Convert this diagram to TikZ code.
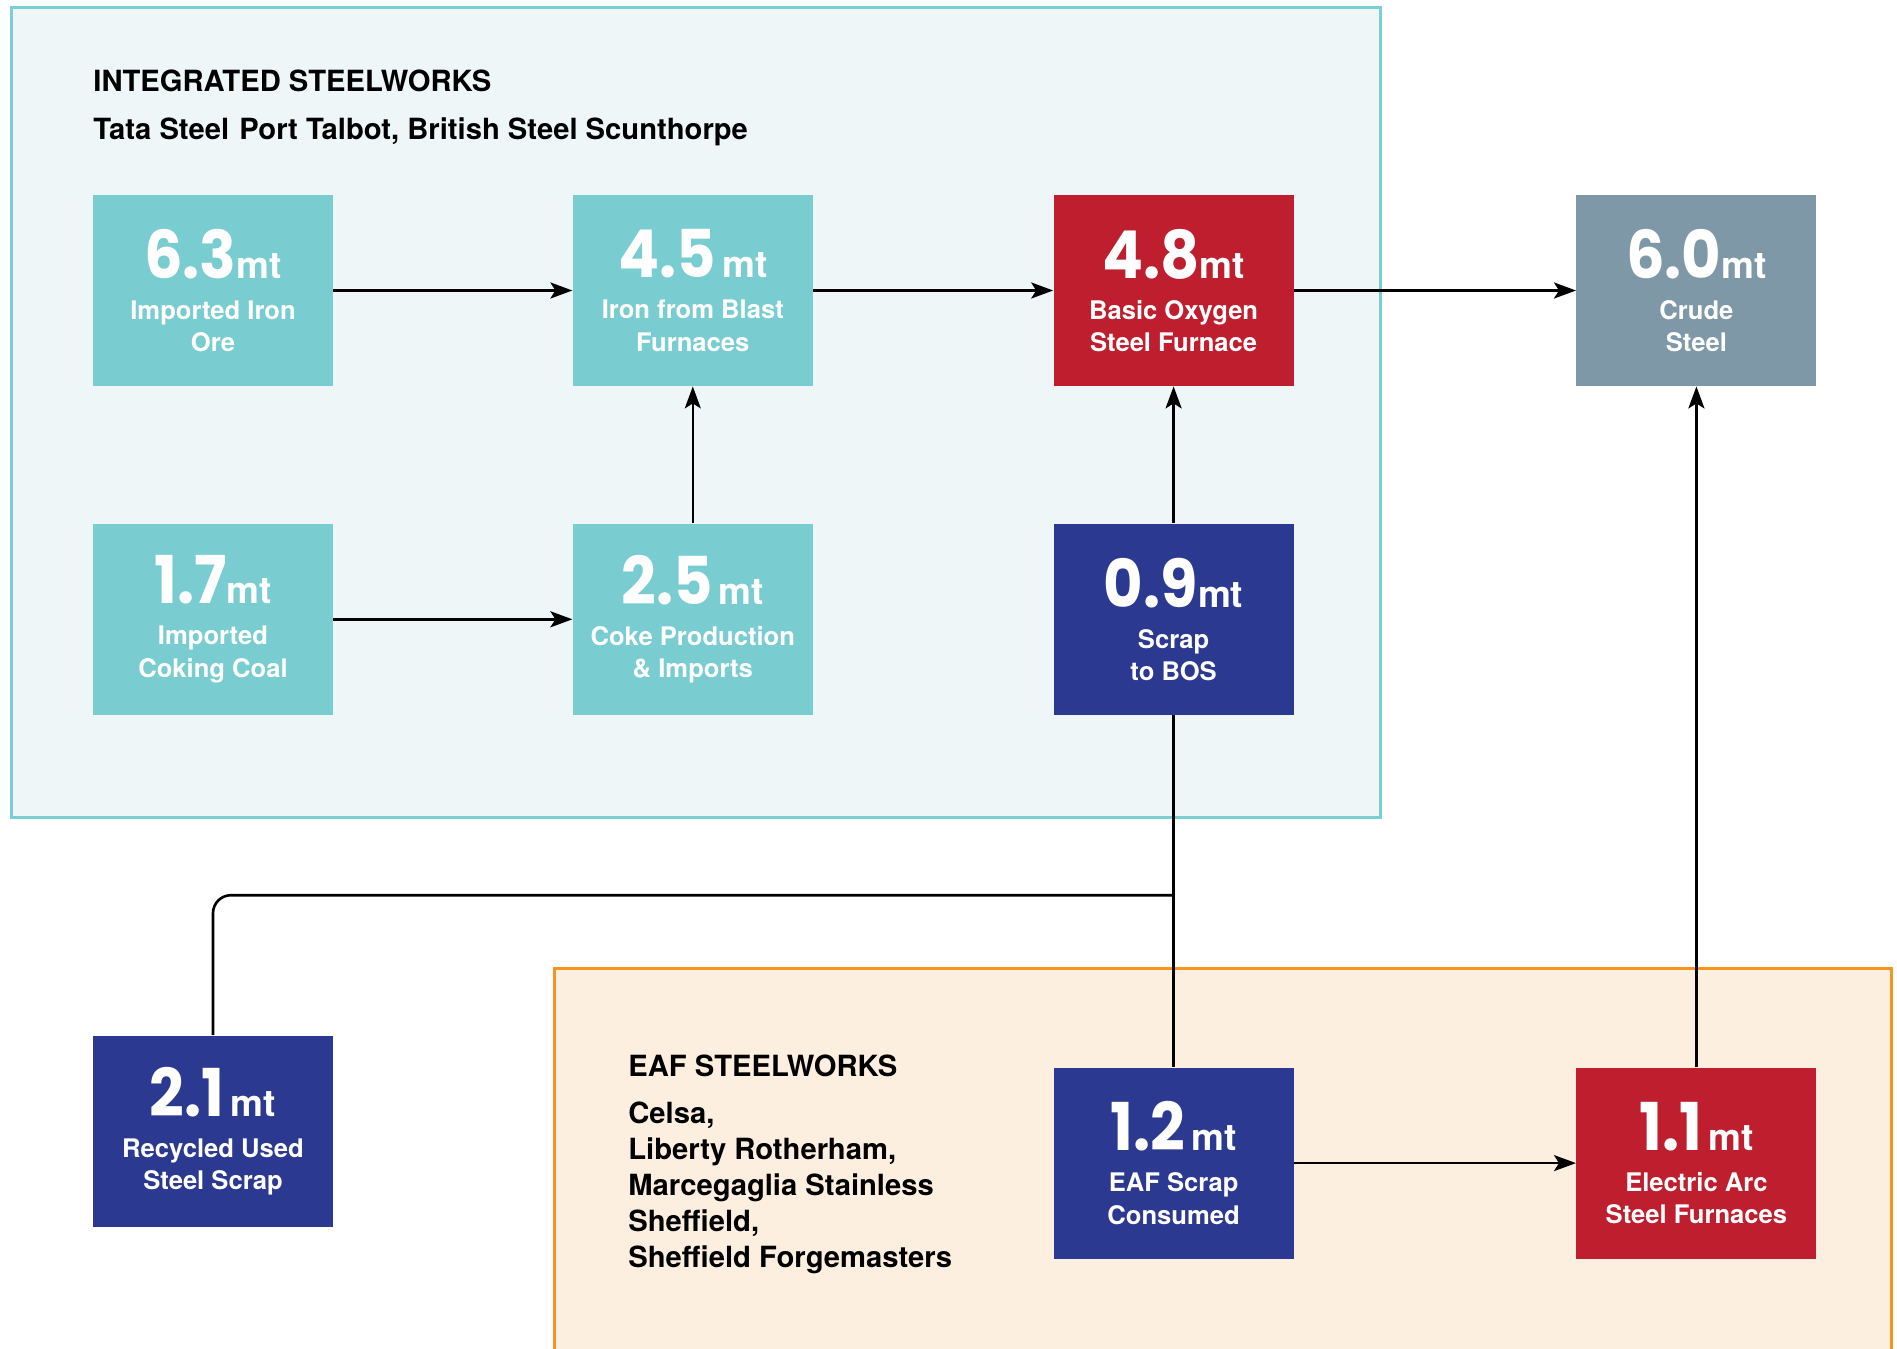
\documentclass[tikz,border=0pt]{standalone}
\usepackage{fontspec}
\setmainfont{TeX Gyre Heros}
\newfontfamily\numfont{Poppins Black}
\usetikzlibrary{positioning,arrows.meta}

\definecolor{boxteal}{HTML}{79CDD0}
\definecolor{boxred}{HTML}{BE1E2E}
\definecolor{boxnavy}{HTML}{2C3991}
\definecolor{boxgrey}{HTML}{7E98A7}
\definecolor{intline}{HTML}{7ACFD2}
\definecolor{intfill}{HTML}{EEF6F7}
\definecolor{eafline}{HTML}{F7941E}
\definecolor{eaffill}{HTML}{FDEFE0}

\newcommand{\amount}[2]{\scalebox{0.92}[1]{\numfont\fontsize{33}{33}\selectfont #1}{\fontsize{18.5}{18.5}\selectfont #2}}

\begin{document}
\begin{tikzpicture}[x=0.5pt, y=-0.5pt,
    flowbox/.style={text=white, inner sep=0pt, minimum width=120pt, minimum height=95.5pt,
      align=center, font=\bfseries\fontsize{12.8}{16.3}\selectfont},
    tealbox/.style={flowbox, fill=boxteal},
    redbox/.style={flowbox, fill=boxred},
    navybox/.style={flowbox, fill=boxnavy},
    greybox/.style={flowbox, fill=boxgrey},
    flow/.style={line width=1.3pt, -{Stealth[length=11pt,width=8pt,inset=2.5pt]}},
    link/.style={line width=1.3pt, rounded corners=9pt},
    heading/.style={anchor=base west, inner sep=0pt, align=left,
      font=\bfseries\fontsize{14.6}{17.9}\selectfont}]
  \useasboundingbox (0,0) rectangle (1897,1349);
  \clip (0,0) rectangle (1897,1349);
  % frames
  \draw[intline, fill=intfill, line width=1.5pt] (11,7) rectangle (1380,817);
  \draw[eafline, fill=eaffill, line width=1.5pt] (554,968) rectangle (1891,1420);
  \node[heading] (inttitle) at (93,91) {INTEGRATED STEELWORKS};
  \node[heading] (intsites) at (93,139) {Tata Steel\hspace{0.35em}Port Talbot, British Steel Scunthorpe};
  \node[heading] (eaftitle) at (628,1076) {EAF STEELWORKS};
  % multi-line node sits on its last baseline
  \node[heading] (eafsites) at (628,1267) {Celsa,\\Liberty Rotherham,\\Marcegaglia Stainless\\Sheffield,\\Sheffield Forgemasters};
  % boxes
  \node[tealbox] (ironore) at (213,290.5) {\amount{6.3}{mt}\\[4.2pt]Imported Iron\\Ore};
  \node[tealbox, right=119.5pt of ironore] (ironblast) {\amount{4.5}{\,mt}\\[4.2pt]Iron from Blast\\Furnaces};
  \node[redbox, right=120pt of ironblast] (bos) {\amount{4.8}{mt}\\[4.2pt]Basic Oxygen\\Steel Furnace};
  \node[greybox, right=141pt of bos] (crude) {\amount{6.0}{mt}\\[4.2pt]Crude\\Steel};
  \node[tealbox, below=68.5pt of ironore] (coal) {\amount{1.7}{mt}\\[4.2pt]Imported\\Coking Coal};
  \node[tealbox, right=119.5pt of coal] (coke) {\amount{2.5}{\,mt}\\[4.2pt]Coke Production\\\& Imports};
  \node[navybox, right=120pt of coke] (scrapbos) {\amount{0.9}{mt}\\[4.2pt]Scrap\\to BOS};
  \node[navybox, below=160pt of coal] (recycled) {\amount{2.1}{\,mt}\\[4.2pt]Recycled Used\\Steel Scrap};
  \node[navybox, below=176pt of scrapbos] (eafscrap) {\amount{1.2}{\,mt}\\[4.2pt]EAF Scrap\\Consumed};
  \node[redbox, right=141pt of eafscrap] (eaf) {\amount{1.1}{\,mt}\\[4.2pt]Electric Arc\\Steel Furnaces};
  % connectors
  \draw[flow] (ironore) -- (ironblast);
  \draw[flow] (ironblast) -- (bos);
  \draw[flow] (bos) -- (crude);
  \draw[flow] (coal) -- (coke);
  \draw[flow] (coke) -- (ironblast);
  \draw[flow] (scrapbos) -- (bos);
  \draw[flow] (eafscrap) -- (eaf);
  \draw[flow] (eaf) -- (crude);
  \coordinate[below=90pt of scrapbos.south] (junction);
  \draw[link] (scrapbos.south) -- (eafscrap.north);
  \draw[link] (recycled.north) |- (junction);
\end{tikzpicture}
\end{document}
